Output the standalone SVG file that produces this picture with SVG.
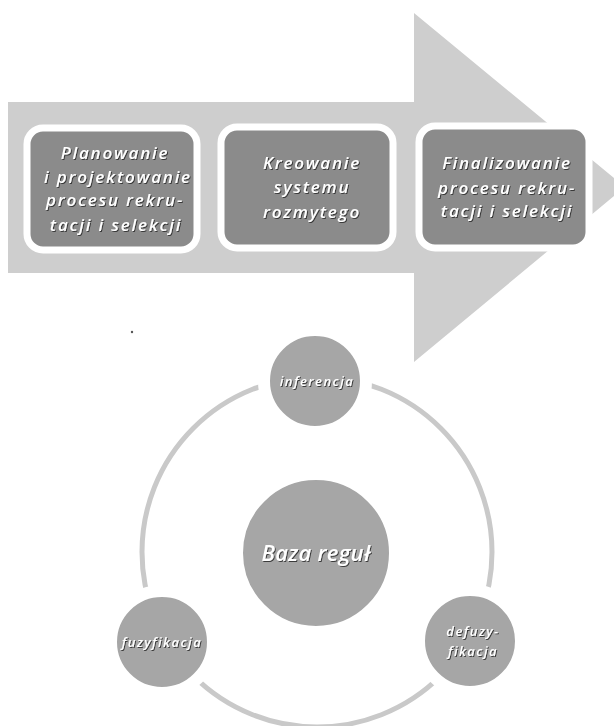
<svg xmlns="http://www.w3.org/2000/svg" width="614" height="726" viewBox="0 0 614 726">
<defs>
<filter id="sh" x="-10%" y="-30%" width="130%" height="160%">
<feDropShadow dx="1" dy="1" stdDeviation="0.6" flood-color="#333" flood-opacity="0.9"/>
</filter>
<style>
.arrow{fill:#cecece}
.box{fill:#8b8b8b;stroke:#ffffff;stroke-width:7}
.circ{fill:#a6a6a6;stroke:#ffffff;stroke-width:12}
.ring{fill:none;stroke:#c9c9c9;stroke-width:5}
.t{font-family:"Open Sans","DejaVu Sans",sans-serif;font-style:italic;font-weight:600;fill:#ffffff;text-anchor:middle;filter:url(#sh)}
.tb{font-size:17px;letter-spacing:1.8px}
.ts{font-size:13px;letter-spacing:1.5px}
.tc{font-size:22px;letter-spacing:0.3px}
</style>
</defs>
<rect width="614" height="726" fill="#ffffff"/>
<g id="arrow">
<polygon class="arrow" points="8,102 414,102 414,13 625,187 414,362 414,273 8,273"/>
</g>
<g id="box1">
<rect class="box" x="27" y="128" width="170" height="122" rx="16"/>
<text class="t tb" x="115" y="159">Planowanie</text>
<text class="t tb" x="118" y="183">i projektowanie</text>
<text class="t tb" x="115" y="206">procesu rekru-</text>
<text class="t tb" x="116" y="231">tacji i selekcji</text>
</g>
<g id="box2">
<rect class="box" x="221" y="127" width="172" height="121" rx="16"/>
<text class="t tb" x="312" y="169">Kreowanie</text>
<text class="t tb" x="312" y="193">systemu</text>
<text class="t tb" x="312" y="218">rozmytego</text>
</g>
<g id="box3">
<rect class="box" x="419" y="126" width="170" height="122" rx="16"/>
<text class="t tb" x="507" y="169">Finalizowanie</text>
<text class="t tb" x="507" y="194">procesu rekru-</text>
<text class="t tb" x="507" y="217">tacji i selekcji</text>
</g>
<g id="connectors">
<circle class="ring" cx="317" cy="552" r="175"/>
</g>
<g id="inferencja">
<circle class="circ" cx="315" cy="381" r="51"/>
<text class="t ts" x="317" y="386">inferencja</text>
</g>
<g id="baza">
<circle class="circ" cx="316" cy="553" r="79"/>
<text class="t tc" x="316" y="561">Baza reguł</text>
</g>
<g id="fuzyfikacja">
<circle class="circ" cx="162" cy="642" r="51"/>
<text class="t ts" x="162" y="647">fuzyfikacja</text>
</g>
<g id="defuzyfikacja">
<circle class="circ" cx="470" cy="641" r="51"/>
<text class="t ts" x="473" y="636">defuzy-</text>
<text class="t ts" x="473" y="656">fikacja</text>
</g>
<circle cx="132" cy="332" r="1.2" fill="#555"/>
</svg>
